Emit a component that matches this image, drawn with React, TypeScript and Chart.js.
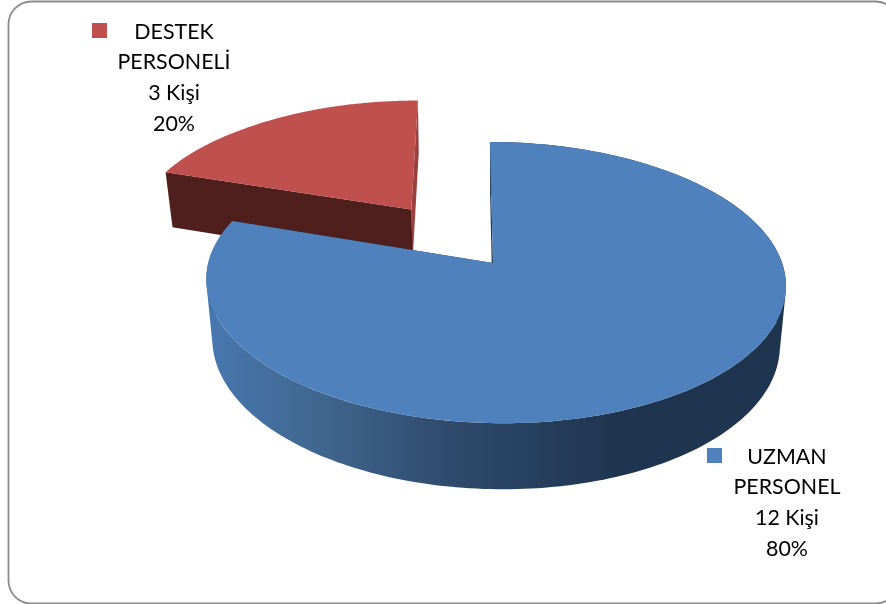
import React, { useEffect, useRef } from "react";
import { Chart, registerables } from "chart.js";

Chart.register(...registerables);

const categories = ["UZMAN PERSONEL", "DESTEK PERSONELİ"];
const labelLines = [["UZMAN", "PERSONEL"], ["DESTEK", "PERSONELİ"]];
const values = [12, 3];
const unit = "Kişi";
const topColors = ["#4F81BD", "#C0504D"];
const explode = [0, 0.505];

const FONT = '21.4px Lato, "Open Sans", sans-serif';
const labelBoxes = [
  { cx: 787, firstY: 457, sq: [707, 448] },
  { cx: 174, firstY: 32, sq: [92, 23] },
];
const LINE = 30.6;

// perspective model of the pie's plane
const K = 0.139, KU = 0.009, YS = 0.4805, SKX = 3.4, SKY = 1.5, EDGE = 0.04;
const VX = 495.5, FX = 0.979, FY = 1.044, DY = 59;

const pie3d = {
  id: "pie3d",
  beforeDatasetDraw(chart: any, args: any) {
    const ctx: CanvasRenderingContext2D = chart.ctx;
    const arcs = chart.getDatasetMeta(args.index).data;
    const a0 = arcs[0];
    const cx0 = a0.x, cy0 = a0.y, R = a0.outerRadius;
    const top = (u: number, v: number) => {
      const s = 1 / (1 - K * v - KU * u);
      return [cx0 + R * u * s + SKX * v * s + R * EDGE * Math.min(0, u + 1), cy0 + R * YS * v * s + SKY * u * s];
    };
    const low = (p: number[]) => [VX + FX * (p[0] - VX), cy0 + DY + FY * (p[1] - cy0)];
    const poly = (pts: number[][], fill: any) => {
      ctx.beginPath();
      pts.forEach((p, i) => (i ? ctx.lineTo(p[0], p[1]) : ctx.moveTo(p[0], p[1])));
      ctx.closePath();
      ctx.fillStyle = fill;
      ctx.fill();
    };
    const geom = (i: number) => {
      const el = arcs[i];
      const mid = (el.startAngle + el.endAngle) / 2;
      const ox = Math.cos(mid) * explode[i], oy = Math.sin(mid) * explode[i];
      const at = (a: number) => top(ox + Math.cos(a), oy + Math.sin(a));
      return { el, apex: top(ox, oy), at };
    };
    const face = (g: any) => {
      const pts = [g.apex];
      const n = 160;
      for (let j = 0; j <= n; j++) pts.push(g.at(g.el.startAngle + ((g.el.endAngle - g.el.startAngle) * j) / n));
      return pts;
    };

    // red slice
    const r = geom(1);
    const rS = r.at(r.el.startAngle), rE = r.at(r.el.endAngle);
    const lowA = low(r.apex), lowE = low(rE);
    poly([rE, r.apex, [lowA[0] - 0.8, lowA[1]], [lowE[0] - 0.8, lowE[1]]], "#9C403E");
    poly([rS, r.apex, low(r.apex), low(rS)], "#4F1F1E");
    poly(face(r), topColors[1]);

    // blue slice
    const b = geom(0);
    const bS = b.at(b.el.startAngle), bE = b.at(b.el.endAngle);
    poly([bS, b.apex, low(b.apex), low(bS)], "#1F344E");
    poly([bE, b.apex, low(b.apex), low(bE)], "#1F344E");
    const g = ctx.createLinearGradient(206, 0, 785, 0);
    g.addColorStop(0, "#4778B0");
    g.addColorStop(0.2, "#40668F");
    g.addColorStop(0.42, "#2F4A6C");
    g.addColorStop(0.56, "#26405F");
    g.addColorStop(0.72, "#1F344E");
    g.addColorStop(1, "#1F344E");
    ctx.beginPath();
    const n = 240;
    for (let j = 0; j < n; j++) {
      const a1 = b.el.startAngle + ((b.el.endAngle - b.el.startAngle) * j) / n;
      const a2 = b.el.startAngle + ((b.el.endAngle - b.el.startAngle) * (j + 1)) / n;
      const p1 = b.at(a1), p2 = b.at(a2), q2 = low(p2), q1 = low(p1);
      const q = [p1, p2, q2, q1];
      let area = 0;
      for (let m = 0; m < 4; m++) {
        const c = q[m], d = q[(m + 1) % 4];
        area += c[0] * d[1] - d[0] * c[1];
      }
      const o = area >= 0 ? q : [q1, q2, p2, p1];
      ctx.moveTo(o[0][0], o[0][1]);
      for (let m = 1; m < 4; m++) ctx.lineTo(o[m][0], o[m][1]);
      ctx.closePath();
    }
    ctx.fillStyle = g;
    ctx.fill();
    poly(face(b), topColors[0]);
    return false;
  },
  afterDraw(chart: any) {
    const ctx: CanvasRenderingContext2D = chart.ctx;
    const total = values.reduce((s, v) => s + v, 0);
    ctx.save();
    ctx.font = FONT;
    ctx.fillStyle = "#000";
    ctx.textAlign = "center";
    ctx.textBaseline = "middle";
    categories.forEach((_, i) => {
      const box = labelBoxes[i];
      const lines = [...labelLines[i], `${values[i]} ${unit}`, `${Math.round((values[i] / total) * 100)}%`];
      lines.forEach((t, j) => ctx.fillText(t, box.cx, box.firstY + j * LINE));
      ctx.fillStyle = topColors[i];
      ctx.fillRect(box.sq[0], box.sq[1], 15, 15);
      ctx.fillStyle = "#000";
    });
    ctx.restore();
  },
  beforeDraw(chart: any) {
    const ctx: CanvasRenderingContext2D = chart.ctx;
    ctx.save();
    ctx.fillStyle = "#fff";
    ctx.fillRect(0, 0, chart.width, chart.height);
    ctx.beginPath();
    ctx.roundRect(8.5, 1.5, 890, 602, 23);
    ctx.strokeStyle = "#8C8C8C";
    ctx.lineWidth = 1.8;
    ctx.stroke();
    ctx.restore();
  },
};

export default function App() {
  const ref = useRef<HTMLCanvasElement>(null);
  useEffect(() => {
    document.body.style.margin = "0";
    const chart = new Chart(ref.current as HTMLCanvasElement, {
      type: "pie",
      data: {
        labels: categories,
        datasets: [{ data: values, backgroundColor: topColors, borderWidth: 0 }],
      },
      options: {
        animation: false,
        responsive: false,
        devicePixelRatio: 1,
        radius: 287,
        layout: { padding: { left: 100, bottom: 78, right: 0, top: 0 } },
        plugins: { legend: { display: false }, tooltip: { enabled: false } },
      } as any,
      plugins: [pie3d as any],
    });
    return () => chart.destroy();
  }, []);
  return <canvas ref={ref} width={886} height={604} style={{ display: "block" }} />;
}
